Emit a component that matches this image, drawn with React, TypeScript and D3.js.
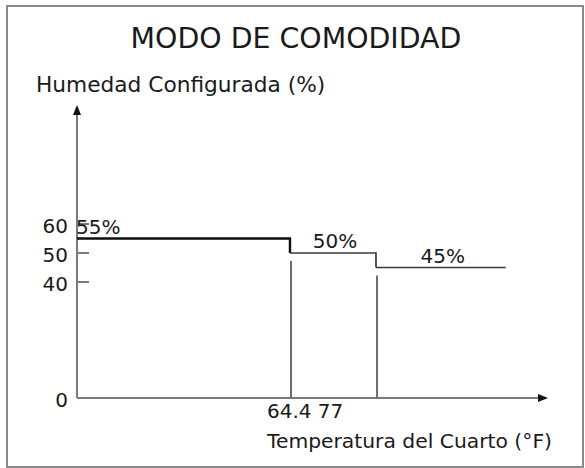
import React from "react";
import * as d3 from "d3";

// Comfort mode: set humidity by room temperature band
const humidityLevels = [55, 50, 45];
const stepLabels = ["55%", "50%", "45%"];
const tempBreaks = [64.4, 77];
const tempStart = 33.2; // where the axis starts
const tempEnd = 96; // end of the last band
const tempAxisMax = 102.2;
const humidityAxisMax = 101;
const yTickValues = [0, 40, 50, 60];
const yTickMarks = [40, 50, 60];

const W = 585;
const H = 468;
const FONT = "'DejaVu Sans', sans-serif";
const AXIS = "#7a7a7a";

export default function App() {
  const x = d3.scaleLinear().domain([tempStart, tempAxisMax]).range([77, 548]);
  const y = d3.scaleLinear().domain([0, 60]).range([398, 224]);

  const bounds = [tempStart, ...tempBreaks, tempEnd];
  const segments = humidityLevels.map((h, i) => ({
    x0: bounds[i],
    x1: bounds[i + 1],
    h,
    next: humidityLevels[i + 1],
    label: stepLabels[i],
  }));

  const line = d3
    .line<[number, number]>()
    .x((d) => x(d[0]))
    .y((d) => y(d[1]));

  const x0 = x(tempStart);
  const y0 = y(0);
  const yTop = y(humidityAxisMax);
  const xRight = x(tempAxisMax);

  return (
    <svg
      width={W}
      height={H}
      style={{ position: "absolute", left: 0, top: 0, background: "#fff" }}
      fontFamily={FONT}
    >
      <rect x={7} y={6} width={576} height={461} fill="#fff" stroke="#8a8a8a" strokeWidth={2} />

      <text x={296} y={48} textAnchor="middle" fontSize={28.4} fill="#1a1a1a">
        MODO DE COMODIDAD
      </text>
      <text x={36} y={92} fontSize={21.7} fill="#1a1a1a">
        Humedad Configurada (%)
      </text>

      {/* axes */}
      <line x1={x0} x2={x0} y1={y0} y2={yTop + 9} stroke={AXIS} strokeWidth={2} />
      <path
        d={`M${x0},${yTop} L${x0 - 4},${yTop + 10} L${x0 + 4},${yTop + 10} Z`}
        fill="#111"
      />
      <line x1={x0} x2={xRight - 8} y1={y0} y2={y0} stroke={AXIS} strokeWidth={2} />
      <path
        d={`M${xRight},${y0} L${xRight - 10},${y0 - 4} L${xRight - 10},${y0 + 4} Z`}
        fill="#111"
      />

      {yTickMarks.map((t) => (
        <line key={t} x1={x0} x2={x0 + 12} y1={y(t)} y2={y(t)} stroke={AXIS} strokeWidth={2} />
      ))}
      {yTickValues.map((t) => (
        <text
          key={t}
          x={68}
          y={y(t) + (t === 0 ? 2 : 2)}
          textAnchor="end"
          dominantBaseline="central"
          fontSize={20}
          fill="#1a1a1a"
        >
          {t}
        </text>
      ))}

      {/* drop lines at the band edges */}
      {tempBreaks.map((t, i) => (
        <line
          key={t}
          x1={x(t) + 1}
          x2={x(t) + 1}
          y1={y0}
          y2={y(humidityLevels[i + 1]) + 8}
          stroke="#6e6e6e"
          strokeWidth={2}
        />
      ))}

      {/* humidity steps */}
      {segments.map((s, i) => {
        const pts: [number, number][] = [
          [s.x0, s.h],
          [s.x1, s.h],
        ];
        if (s.next !== undefined) pts.push([s.x1, s.next]);
        return (
          <path
            key={i}
            d={line(pts) ?? ""}
            fill="none"
            stroke={i === 0 ? "#0d0d0d" : "#3a3a3a"}
            strokeWidth={i === 0 ? 2.4 : 1.7}
          />
        );
      })}
      {segments.map((s, i) => (
        <text
          key={s.label}
          x={i === 0 ? x(s.x0) - 1 : (x(s.x0) + x(s.x1)) / 2 + 2}
          y={y(s.h) - 5}
          textAnchor={i === 0 ? "start" : "middle"}
          fontSize={20}
          fill="#1a1a1a"
        >
          {s.label}
        </text>
      ))}

      {/* x tick labels, set as one run under the first break */}
      <text x={x(tempBreaks[0]) - 23} y={418} fontSize={20} fill="#1a1a1a">
        {tempBreaks.join(" ")}
      </text>
      <text x={267} y={448} fontSize={20.3} fill="#1a1a1a">
        Temperatura del Cuarto (°F)
      </text>
    </svg>
  );
}
